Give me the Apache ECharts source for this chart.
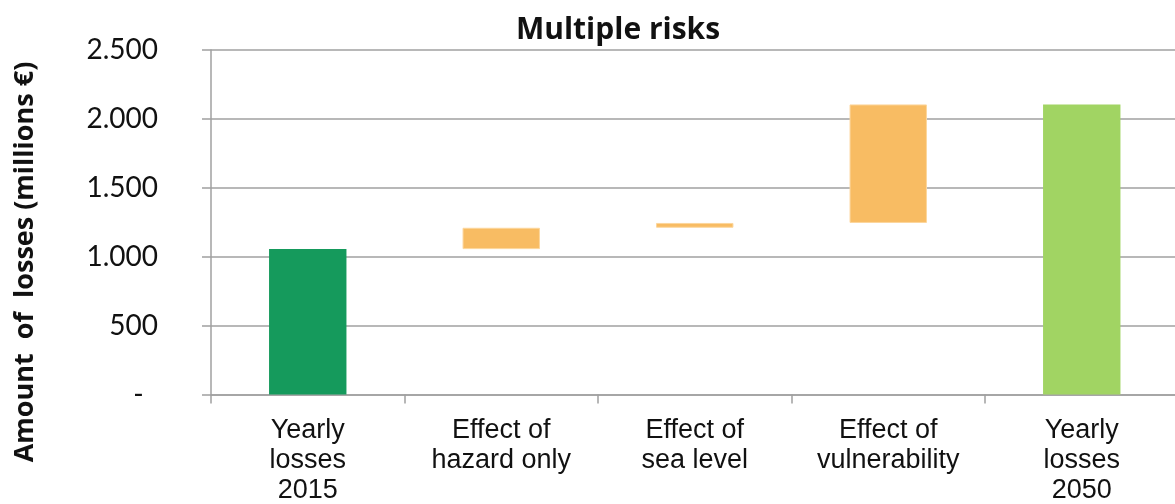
<!DOCTYPE html>
<html>
<head>
<meta charset="utf-8">
<title>Multiple risks</title>
<script src="https://cdn.jsdelivr.net/npm/echarts@6/dist/echarts.min.js"></script>
<style>
  html, body { margin: 0; padding: 0; background: #ffffff; }
  #chart { width: 1175px; height: 504px; }
</style>
</head>
<body>
<div id="chart"></div>
<script>
// Waterfall of yearly flood losses (millions €)
const categories = [
  'Yearly\nlosses\n2015',
  'Effect of\nhazard only',
  'Effect of\nsea level',
  'Effect of\nvulnerability',
  'Yearly\nlosses\n2050'
];
// Step values: first and last are totals, the middle ones are increments
const stepValues = [1055, 155, 35, 860, 2105];
const isTotal = [true, false, false, false, true];
const barColors = ['#159a5c', '#f8bc63', '#f8bc63', '#f8bc63', '#a1d463'];
const yTicks = [0, 500, 1000, 1500, 2000, 2500];

// Invisible base for each floating bar = running total before the step
const baseValues = [];
let running = 0;
stepValues.forEach(function (v, i) {
  if (isTotal[i]) { baseValues.push(0); running = v; }
  else { baseValues.push(running); running += v; }
});

function fmtThousands(v) {
  if (v === 0) return '-\u00a0\u00a0';
  return String(v).replace(/\B(?=(\d{3})+(?!\d))/g, '.');
}

const chart = echarts.init(document.getElementById('chart'), null, { renderer: 'canvas' });
const gridColor = '#a0a0a0';

chart.setOption({
  animation: false,
  backgroundColor: '#ffffff',
  title: {
    text: 'Multiple risks',
    left: 613,
    top: 10,
    textAlign: 'center',
    textStyle: { fontFamily: 'Open Sans', fontWeight: 'bold', fontSize: 30, color: '#111111' }
  },
  graphic: [{
    type: 'text',
    x: 25,
    y: 262,
    rotation: Math.PI / 2,
    style: {
      text: 'Amount  of  losses (millions €)',
      fontFamily: 'Open Sans',
      fontWeight: 'bold',
      fontSize: 27,
      fill: '#111111',
      textAlign: 'center',
      textVerticalAlign: 'middle'
    }
  }],
  grid: {
    left: 211, top: 50, width: 967.5, height: 344.5,
    containLabel: false,
    outerBoundsMode: 'none'
  },
  xAxis: {
    type: 'category',
    data: categories,
    boundaryGap: true,
    axisLine: { show: true, lineStyle: { color: gridColor, width: 1.5 } },
    axisTick: { show: true, length: 9, alignWithLabel: false, lineStyle: { color: gridColor, width: 1.5 } },
    axisLabel: {
      interval: 0,
      margin: 21,
      fontFamily: 'Liberation Sans',
      fontSize: 27,
      lineHeight: 30,
      color: '#111111',
      align: 'center'
    },
    splitLine: { show: false }
  },
  yAxis: {
    type: 'value',
    min: yTicks[0],
    max: yTicks[yTicks.length - 1],
    interval: yTicks[1] - yTicks[0],
    axisLine: { show: true, lineStyle: { color: gridColor, width: 1.5 } },
    axisTick: { show: true, length: 9, inside: false, lineStyle: { color: gridColor, width: 1.5 } },
    axisLabel: {
      margin: 53,
      fontFamily: 'Lato',
      fontSize: 28,
      color: '#111111',
      formatter: fmtThousands
    },
    splitLine: { show: true, lineStyle: { color: gridColor, width: 1.5 } }
  },
  series: [
    {
      name: 'base',
      type: 'bar',
      stack: 'wf',
      silent: true,
      barWidth: '40%',
      itemStyle: { color: 'transparent' },
      data: baseValues
    },
    {
      name: 'losses',
      type: 'bar',
      stack: 'wf',
      barWidth: '40%',
      data: stepValues.map(function (v, i) {
        return {
          value: v,
          itemStyle: {
            color: barColors[i],
            borderColor: isTotal[i] ? barColors[i] : '#fcd69c',
            borderWidth: isTotal[i] ? 0 : 1
          }
        };
      })
    }
  ]
});
</script>
</body>
</html>
